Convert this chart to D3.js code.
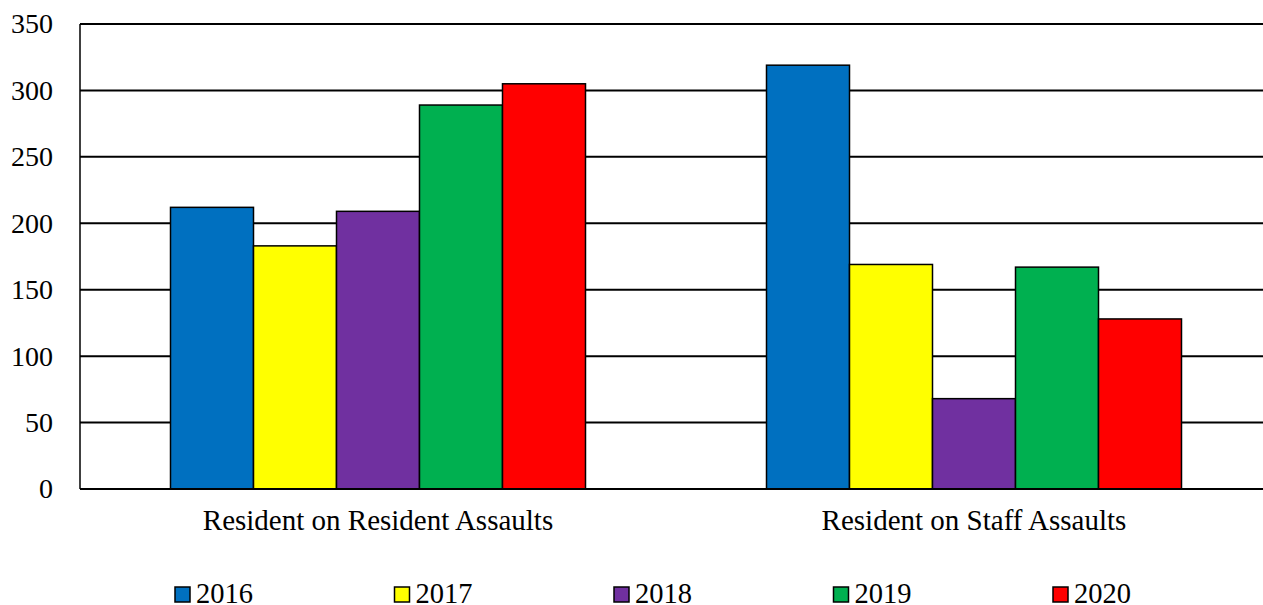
<!DOCTYPE html>
<html>
<head>
<meta charset="utf-8">
<script src="https://cdn.jsdelivr.net/npm/d3@7"></script>
<style>
  html, body { margin: 0; padding: 0; background: #fff; }
  svg { display: block; }
  svg text { font-family: "Liberation Serif", "Times New Roman", Times, serif; fill: #000; }
</style>
</head>
<body>
<svg id="chart" width="1263" height="605"></svg>
<script>
// Assault counts by category and year
const categories = ["Resident on Resident Assaults", "Resident on Staff Assaults"];
const years = ["2016", "2017", "2018", "2019", "2020"];
const colors = ["#0070C0", "#FFFF00", "#7030A0", "#00B050", "#FF0000"];
const values2016 = [212, 319];
const values2017 = [183, 169];
const values2018 = [209, 68];
const values2019 = [289, 167];
const values2020 = [305, 128];
const yTicks = [0, 50, 100, 150, 200, 250, 300, 350];

const seriesValues = [values2016, values2017, values2018, values2019, values2020];
const serif = '"Liberation Serif", "Times New Roman", Times, serif';

const svg = d3.select("#chart");
const plot = { left: 80, right: 1272, top: 24, bottom: 489 };

const y = d3.scaleLinear().domain([0, 350]).range([plot.bottom, plot.top]);
const x0 = d3.scaleBand().domain(categories).range([plot.left, plot.right]).padding(0);
const groupInner = 415;
const x1 = d3.scaleBand().domain(years).range([0, groupInner]).padding(0);

// Horizontal gridlines
svg.append("g")
  .selectAll("line")
  .data(yTicks.filter(t => t > 0))
  .join("line")
  .attr("x1", plot.left).attr("x2", plot.right)
  .attr("y1", d => y(d)).attr("y2", d => y(d))
  .attr("stroke", "#000").attr("stroke-width", 2);

// Bars
const groups = svg.append("g")
  .selectAll("g")
  .data(categories)
  .join("g")
  .attr("transform", c => `translate(${x0(c) + (x0.bandwidth() - groupInner) / 2},0)`);

groups.selectAll("rect")
  .data((c, ci) => years.map((yr, si) => ({ yr, si, v: seriesValues[si][ci] })))
  .join("rect")
  .attr("x", d => x1(d.yr))
  .attr("width", x1.bandwidth())
  .attr("y", d => y(d.v))
  .attr("height", d => y(0) - y(d.v))
  .attr("fill", d => colors[d.si])
  .attr("stroke", "#000").attr("stroke-width", 1.5);

// Axis lines
svg.append("line")
  .attr("x1", plot.left).attr("x2", plot.left)
  .attr("y1", plot.top).attr("y2", plot.bottom)
  .attr("stroke", "#000").attr("stroke-width", 1.5);
svg.append("line")
  .attr("x1", plot.left).attr("x2", plot.right)
  .attr("y1", plot.bottom).attr("y2", plot.bottom)
  .attr("stroke", "#000").attr("stroke-width", 2);

// Y tick labels
const yAxis = d3.axisLeft(y).tickValues(yTicks).tickSize(0).tickPadding(27);
const yg = svg.append("g").attr("transform", `translate(${plot.left},0)`).call(yAxis)
  .attr("font-family", serif).attr("font-size", 28);
yg.select(".domain").remove();
yg.selectAll("text").attr("fill", "#000");

// Category labels
const xAxis = d3.axisBottom(x0).tickSize(0).tickPadding(20);
const xg = svg.append("g").attr("transform", `translate(0,${plot.bottom})`).call(xAxis)
  .attr("font-family", serif).attr("font-size", 29);
xg.select(".domain").remove();
xg.selectAll("text").attr("fill", "#000");

// Legend
const legendX = d3.scaleBand().domain(years).range([175, 175 + 219.5 * 5]);
const legend = svg.append("g")
  .attr("font-family", serif).attr("font-size", 28.5)
  .selectAll("g")
  .data(years)
  .join("g")
  .attr("transform", d => `translate(${legendX(d)},587)`);
legend.append("rect")
  .attr("width", 15).attr("height", 15)
  .attr("fill", (d, i) => colors[i])
  .attr("stroke", "#000").attr("stroke-width", 1.5);
legend.append("text")
  .attr("x", 21).attr("y", 15.5)
  .text(d => d);
</script>
</body>
</html>
